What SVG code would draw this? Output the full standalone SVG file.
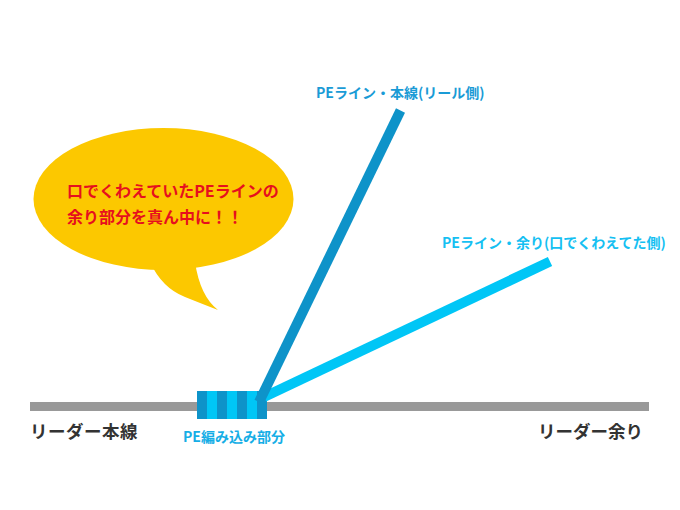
<svg xmlns="http://www.w3.org/2000/svg" width="680" height="510" viewBox="0 0 680 510">
<style>
text{font-family:"Noto Sans CJK JP","Noto Sans",sans-serif;font-weight:bold}
.red{fill:#e60f1e;font-size:16px}
.lbl{fill:#333;font-size:17.5px}
.pe1{fill:#1a9bd6;font-size:14px}
.pe2{fill:#15c0f2;font-size:14px}
.pe3{fill:#16aee6;font-size:14px}
.d{fill:#0e93c9}
.l{fill:#00c6f6}
</style>
<rect width="680" height="510" fill="#fff"/>
<g id="bubble">
<ellipse cx="163.5" cy="199" rx="130" ry="71" fill="#fcc800"/>
<path d="M150,262 Q162,288 185,297 Q205,305 218,310 Q200,296 195,262 Z" fill="#fcc800"/>
<text class="red" x="67" y="197">口でくわえていたPEラインの</text>
<text class="red" x="67" y="223">余り部分を真ん中に！！</text>
</g>
<g id="leader">
<rect x="30" y="402" width="619" height="9" fill="#999"/>
<text class="lbl" x="30" y="438" letter-spacing="0.5">リーダー本線</text>
<text class="lbl" x="538" y="438">リーダー余り</text>
</g>
<g id="knot">
<rect class="d" x="197" y="391" width="70" height="28"/>
<rect class="l" x="207" y="391" width="10" height="28"/>
<rect class="l" x="227" y="391" width="10" height="28"/>
<rect class="l" x="247" y="391" width="10" height="28"/>
<text class="pe3" x="183" y="442">PE編み込み部分</text>
</g>
<g id="connectors">
<line x1="264" y1="397" x2="550" y2="261.5" stroke="#00c6f6" stroke-width="10"/>
<line x1="259" y1="402" x2="400.5" y2="110.5" stroke="#0e93c9" stroke-width="10"/>
</g>
<g id="labels">
<text class="pe1" x="316" y="98">PEライン・本線(リール側)</text>
<text class="pe2" x="442" y="248">PEライン・余り(口でくわえてた側)</text>
</g>
</svg>
